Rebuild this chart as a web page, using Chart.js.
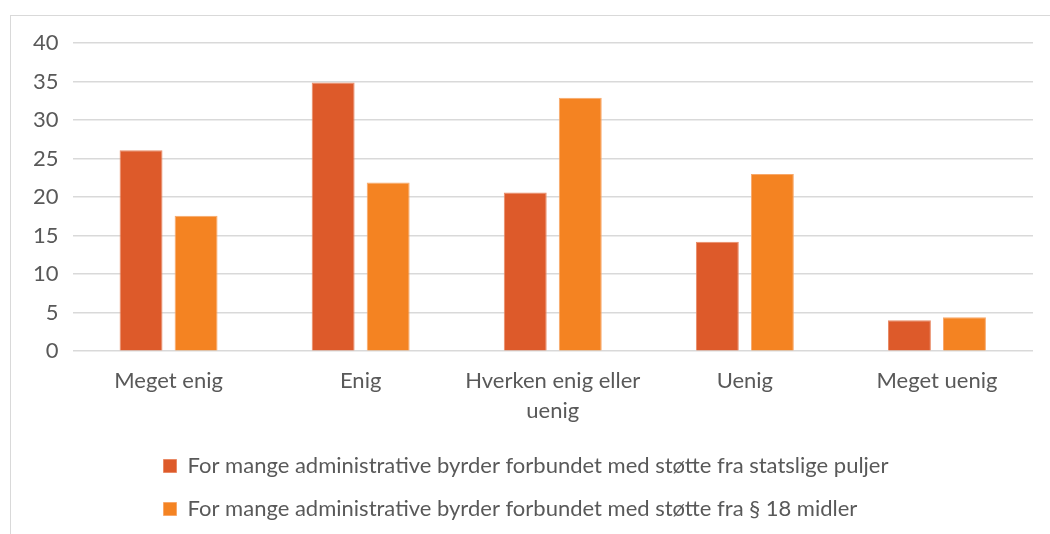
<!DOCTYPE html>
<html>
<head>
<meta charset="utf-8">
<script src="https://cdn.jsdelivr.net/npm/chart.js@4.4.1/dist/chart.umd.min.js"></script>
<style>
  html, body { margin: 0; padding: 0; background: #fff; overflow: hidden; }
  #ramme {
    position: absolute; left: 10px; top: 15px;
    width: 1050px; height: 530px;
    border-top: 1px solid #d9d9d9; border-left: 1px solid #d9d9d9;
  }
  #wrap { position: absolute; left: 0; top: 0; width: 1040px; height: 518px; }
</style>
</head>
<body>
<div id="ramme">
  <div id="wrap"><canvas id="grafAdm"></canvas></div>
</div>
<script>
// Data lest av figuren
const kategorier = ['Meget enig', 'Enig', ['Hverken enig eller', 'uenig'], 'Uenig', 'Meget uenig'];
const statsligePuljer = [26.1, 34.9, 20.6, 14.2, 4.0];
const paragraf18 = [17.6, 21.9, 32.9, 23.0, 4.4];
const yTicks = [0, 5, 10, 15, 20, 25, 30, 35, 40];

const tekstFarge = '#595959';
const fontFam = 'Lato, "Liberation Sans", sans-serif';

// legg alle legend-linjene på samme venstrekant
const venstreLegend = {
  id: 'venstreLegend',
  beforeDraw(chart) {
    const lg = chart.legend;
    if (lg && lg.lineWidths && lg.lineWidths.length) {
      const maks = Math.max(...lg.lineWidths);
      lg.lineWidths = lg.lineWidths.map(() => maks);
    }
  }
};

const ctx = document.getElementById('grafAdm').getContext('2d');
const graf = new Chart(ctx, {
  type: 'bar',
  data: {
    labels: kategorier,
    datasets: [{
      label: 'For mange administrative byrder forbundet med støtte fra statslige puljer',
      data: statsligePuljer,
      backgroundColor: '#dd5a2a',
      borderColor: '#e98a66',
      borderWidth: 1
    }, {
      label: 'For mange administrative byrder forbundet med støtte fra § 18 midler',
      data: paragraf18,
      backgroundColor: '#f48322',
      borderColor: '#f8a86a',
      borderWidth: 1
    }]
  },
  options: {
    responsive: true,
    maintainAspectRatio: false,
    animation: false,
    categoryPercentage: 0.573,
    barPercentage: 0.78,
    layout: { padding: { top: 13, right: 18, left: 8, bottom: 4 } },
    plugins: {
      legend: {
        position: 'bottom',
        labels: {
          color: tekstFarge,
          font: { family: fontFam, size: 22 },
          boxWidth: 13,
          boxHeight: 13,
          padding: 21
        }
      },
      tooltip: { enabled: false }
    },
    scales: {
      y: {
        min: 0,
        max: 40,
        afterBuildTicks: (ax) => { ax.ticks = yTicks.map(v => ({ value: v })); },
        border: { display: false },
        grid: { color: '#d9d9d9', lineWidth: 1.5, drawTicks: false },
        ticks: { color: tekstFarge, font: { family: fontFam, size: 22 }, padding: 14 }
      },
      x: {
        afterFit: (s) => { s.height += 1; },
        border: { display: false },
        grid: { display: false },
        ticks: { color: tekstFarge, font: { family: fontFam, size: 22, lineHeight: 1.36 }, padding: 7, maxRotation: 0 }
      }
    }
  },
  plugins: [venstreLegend]
});
</script>
</body>
</html>
